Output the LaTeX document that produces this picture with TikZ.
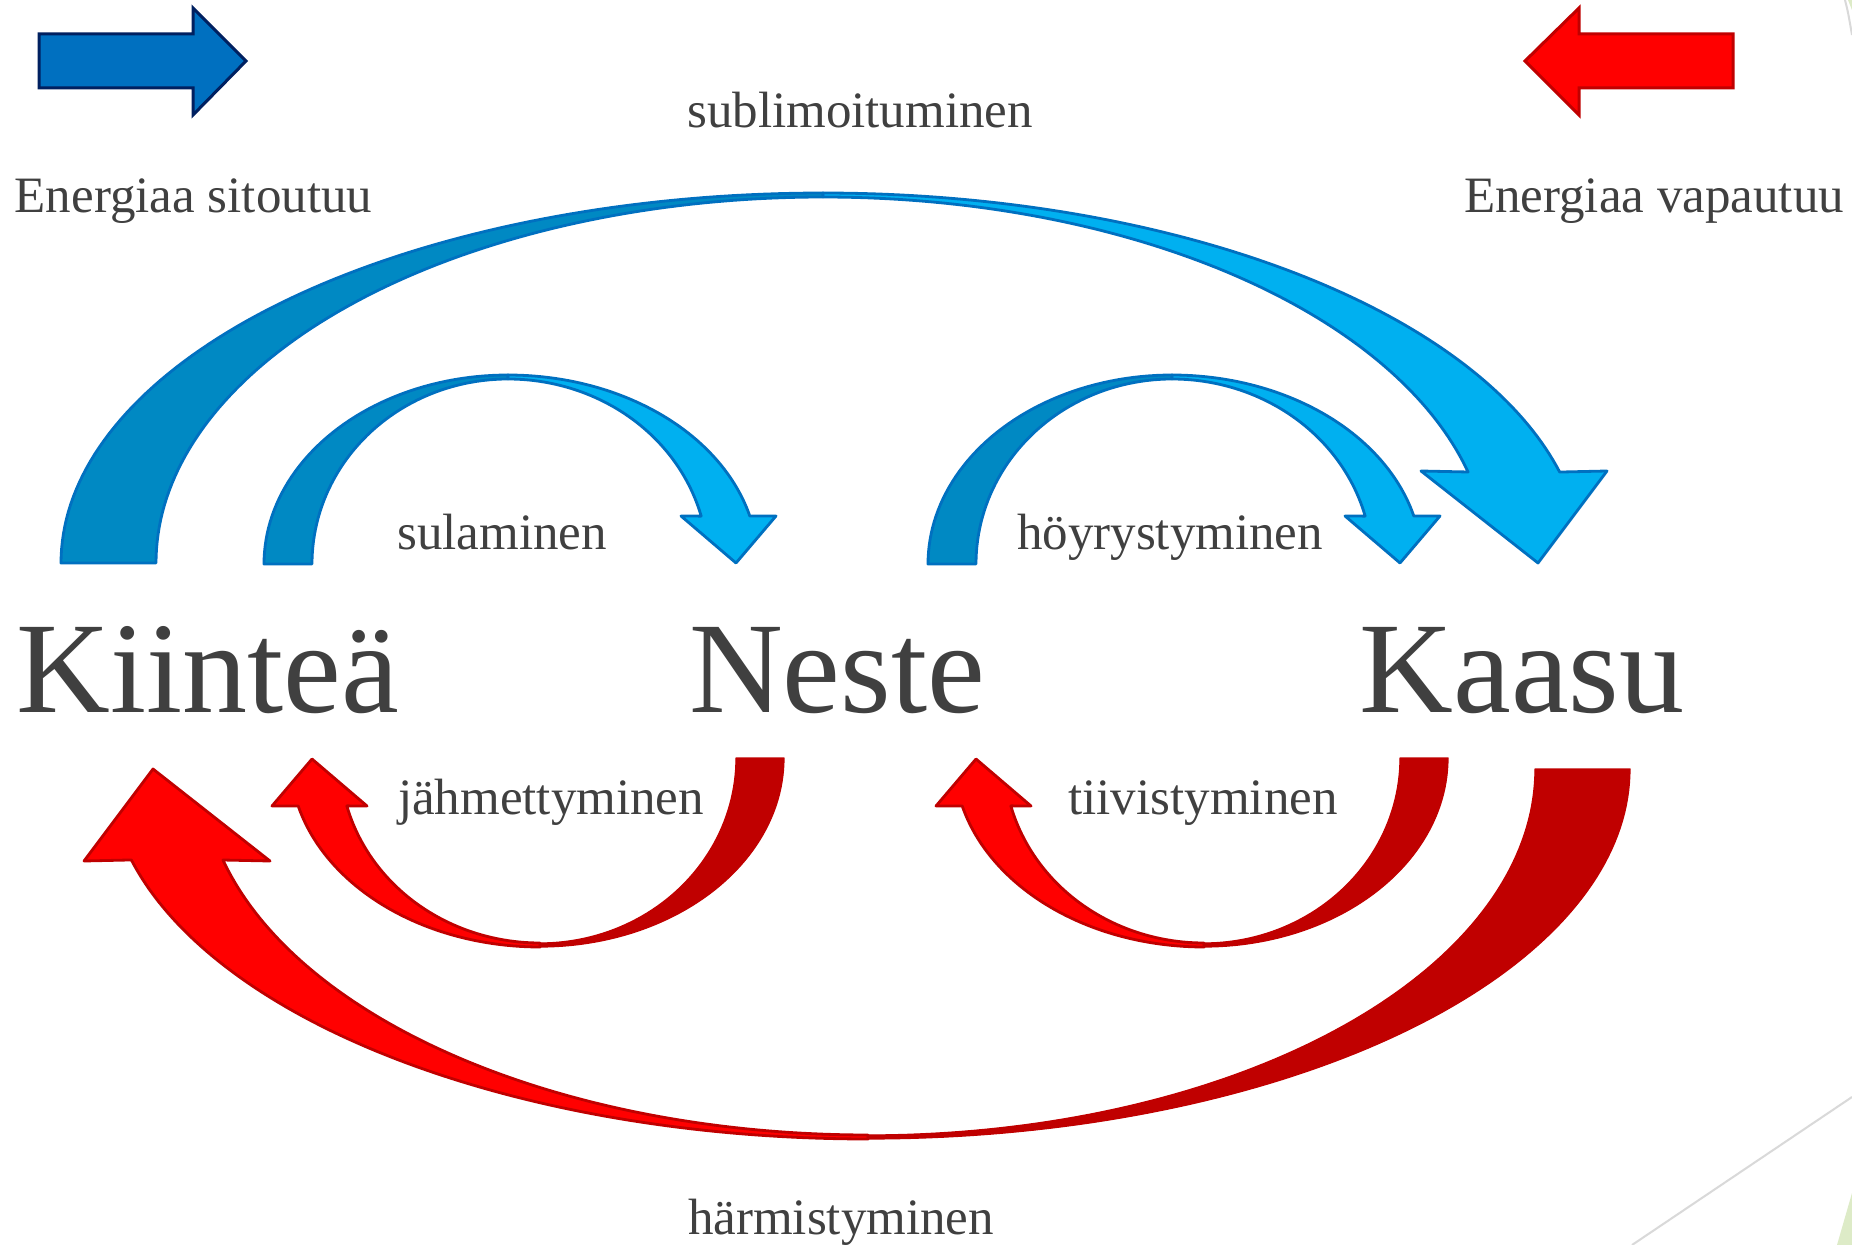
\documentclass[tikz,border=0pt]{standalone}
\usepackage{fontspec}
\setmainfont{Liberation Serif}
\definecolor{bdark}{HTML}{0089C3}
\definecolor{blight}{HTML}{00B0F0}
\definecolor{bline}{HTML}{0070C0}
\definecolor{navy}{HTML}{002060}
\definecolor{rlight}{HTML}{FF0000}
\definecolor{rdark}{HTML}{C00000}
\definecolor{txtgray}{HTML}{404040}
\definecolor{decogray}{HTML}{D9D9D9}
\definecolor{decogreen}{HTML}{DDEBC7}
\tikzset{
  lbl/.style={font=\fontsize{25.5}{30}\selectfont, text=txtgray, inner sep=0pt, anchor=base},
  bigl/.style={font=\fontsize{65}{78}\selectfont, text=txtgray, inner sep=0pt, anchor=base},
  bluedark/.style={fill=bdark, draw=bline, line width=1.4pt, line join=round},
  bluelight/.style={fill=blight, draw=bline, line width=1.4pt, line join=round},
  reddark/.style={fill=rdark, draw=rdark, line width=0.6pt, line join=round},
  redlight/.style={fill=rlight, draw=rdark, line width=1.4pt, line join=round},
}
\newcommand\smallribbon[2]{%
  \path[#1] plot[domain=180:90,samples=50] ({508+244*cos(\x)},{564-189*sin(\x)})
     -- plot[domain=90:180,samples=50] ({508+196*cos(\x)},{564-185*sin(\x)}) -- cycle;
  \path[#2] plot[domain=90:14.7,samples=50] ({508+250*cos(\x)},{564-189*sin(\x)})
     -- (776,516) -- (736,563) -- (681,516)
     -- plot[domain=15:90,samples=50] ({508+200*cos(\x)},{564-185*sin(\x)}) -- cycle;
}
\newcommand\bigribbon[2]{%
  \path[#1] plot[domain=180:90,samples=80] ({823+762*cos(\x)},{563-370*sin(\x)})
     -- plot[domain=90:180,samples=80] ({823+667*cos(\x)},{563-366*sin(\x)}) -- cycle;
  \path[#2] plot[domain=90:14.23,samples=80] ({823+760*cos(\x)},{563-370*sin(\x)})
     -- (1607,471) -- (1538,563) -- (1421,471)
     -- plot[domain=14.4:90,samples=80] ({823+666*cos(\x)},{563-366*sin(\x)}) -- cycle;
}
\begin{document}
\begin{tikzpicture}[x=0.5pt,y=-0.5pt]
\useasboundingbox (0,0) rectangle (1852,1245);
\fill[white] (0,0) rectangle (1852,1245);

% decorations at the right edge
\draw[decogray, line width=1pt] (1845,0) .. controls (1848,12) .. (1852,35);
\fill[decogreen] (1848,0) -- (1852,0) -- (1852,10) -- cycle;
\draw[decogray, line width=1pt] (1632,1245) -- (1852,1097);
\fill[decogreen] (1837,1245) -- (1852,1193) -- (1852,1245) -- cycle;

% legend arrows
\draw[fill=bline, draw=navy, line width=1.5pt, line join=miter]
  (39,34) -- (193,34) -- (193,8) -- (246,61) -- (193,115) -- (193,88) -- (39,88) -- cycle;
\draw[fill=rlight, draw=rdark, line width=1.5pt, line join=miter]
  (1733,34) -- (1579,34) -- (1579,8) -- (1525,61) -- (1579,115) -- (1579,88) -- (1733,88) -- cycle;

% blue ribbons
\bigribbon{bluedark}{bluelight}
\smallribbon{bluedark}{bluelight}
\begin{scope}[shift={(664,0)}]
  \smallribbon{bluedark}{bluelight}
\end{scope}

% red ribbons
\begin{scope}[rotate around={180:(845.5,666)}]
  \bigribbon{reddark}{redlight}
\end{scope}
\begin{scope}[rotate around={180:(524,661)}]
  \smallribbon{reddark}{redlight}
\end{scope}
\begin{scope}[shift={(664,0)}, rotate around={180:(524,661)}]
  \smallribbon{reddark}{redlight}
\end{scope}

% texts
\node[lbl] (sitoutuu) at (193.5,213) {Energiaa sitoutuu};
\node[lbl] (vapautuu) at (1654,213) {Energiaa vapautuu};
\node[lbl] (sublim) at (860,128) {sublimoituminen};
\node[lbl] (sula) at (502,550) {sulaminen};
\node[lbl] (hoyry) at (1170,550) {höyrystyminen};
\node[lbl] (jahm) at (551,814) {jähmettyminen};
\node[lbl] (tiivis) at (1203,814) {tiivistyminen};
\node[lbl] (harm) at (841,1234) {härmistyminen};
\node[bigl] (kiintea) at (208,712) {Kiinteä};
\node[bigl] (neste) at (837,712) {Neste};
\node[bigl] (kaasu) at (1522,712) {Kaasu};
\end{tikzpicture}
\end{document}
